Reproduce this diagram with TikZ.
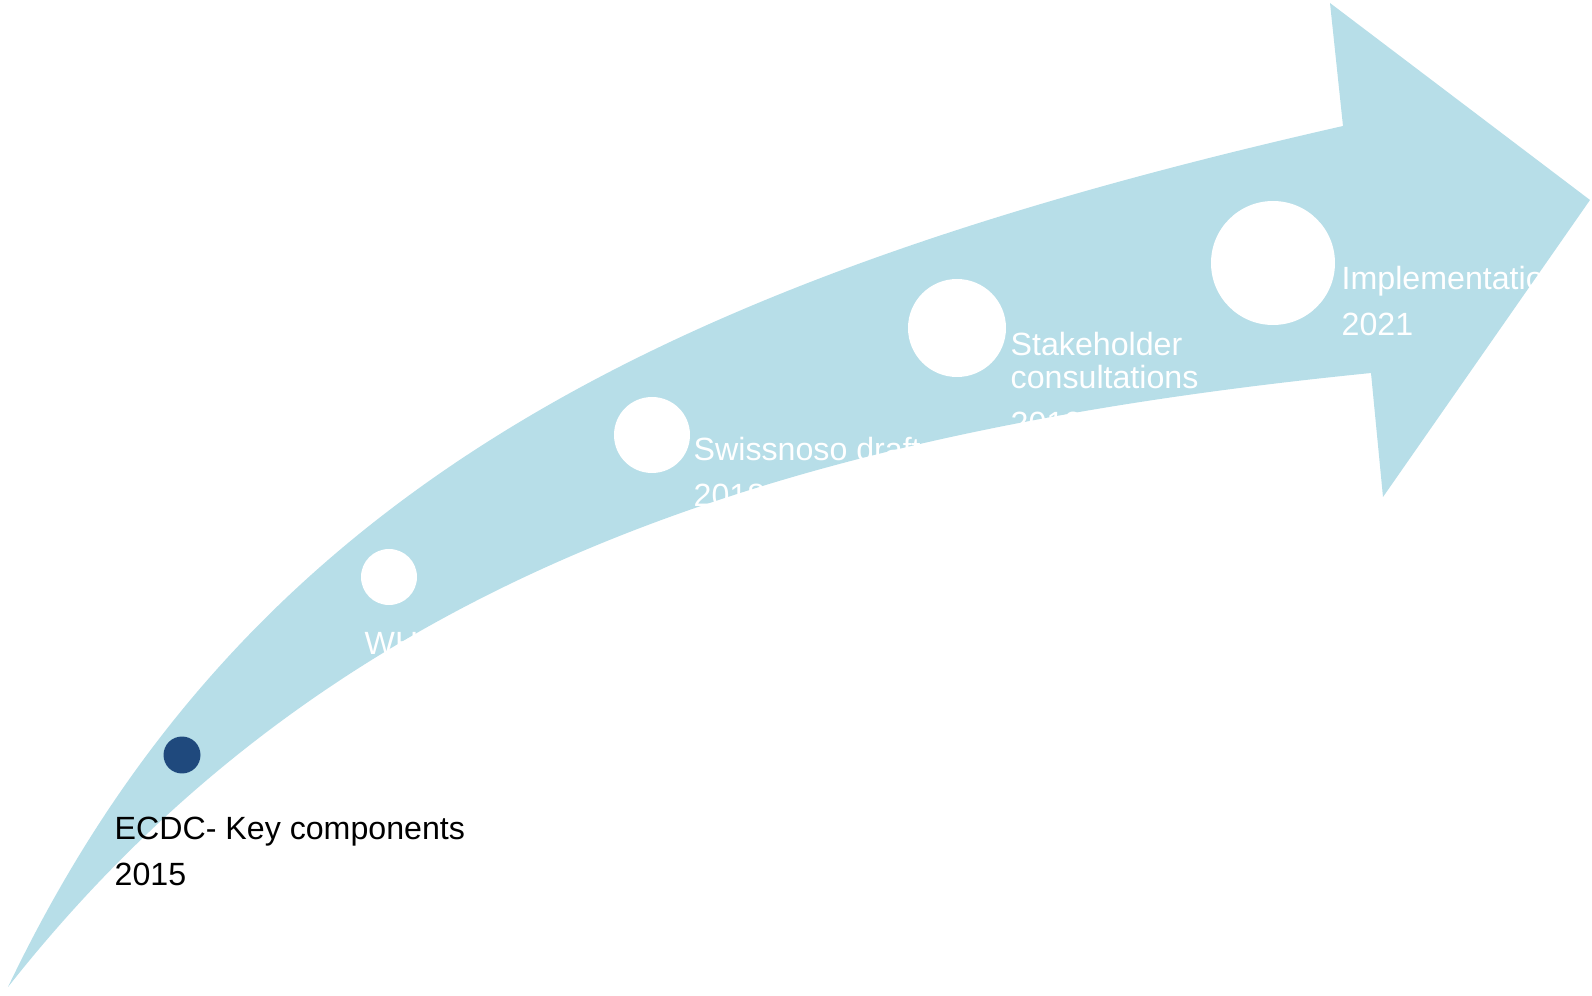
\documentclass[tikz,border=0pt]{standalone}
\usepackage{fontspec}
\setmainfont{Liberation Sans}
\usepackage{xcolor}
\definecolor{bandblue}{HTML}{B7DEE8}
\definecolor{dotblue}{HTML}{1F497D}
\tikzset{
  stagedot/.style={circle,fill=white,inner sep=0pt,minimum size=#1},
  stagetext/.style={anchor=base west,inner sep=0pt,align=left,text=white,font=\fontsize{9.15}{9.39}\selectfont}
}

\begin{document}
\begin{tikzpicture}[>=latex]
        \useasboundingbox (0,0) rectangle (15.92,9.95);
        %箭头
        \fill[bandblue] (0.08,0.08) .. controls (2.445,5.03) and (6.60,7.14) .. (13.43,8.69)
            -- (13.30,9.92) -- (15.90,7.95) -- (13.83,4.98) -- (13.71,6.22)
            .. controls (7.74,5.62) and (3.30,4.16) .. (0.08,0.08) -- cycle;
        %圆点
        \node[stagedot=0.37cm,fill=dotblue] (ecdc) at (1.82,2.40) {};
        \node[stagedot=0.56cm] (who) at (3.89,4.18) {};
        \node[stagedot=0.76cm] (swissnoso) at (6.52,5.60) {};
        \node[stagedot=0.98cm] (stakeholder) at (9.57,6.67) {};
        \node[stagedot=1.24cm] (implementation) at (12.73,7.32) {};
        %文字
        \node[stagetext,text=black] (ecdclabel) at (1.14,1.09) {ECDC- Key components\\[3.7pt]2015};
        \node[stagetext] (wholabel) at (3.64,2.94) {WHO Core components\\[3.7pt]2016};
        \node[stagetext] (swissnosolabel) at (6.93,4.88) {Swissnoso draft\\[3.7pt]2018};
        \node[stagetext] (stakeholderlabel) at (10.10,5.60) {Stakeholder\\consultations\\[3.7pt]2019};
        \node[stagetext] (implementationlabel) at (13.41,6.59) {Implementation\\[3.7pt]2021};
    \end{tikzpicture}
\end{document}
